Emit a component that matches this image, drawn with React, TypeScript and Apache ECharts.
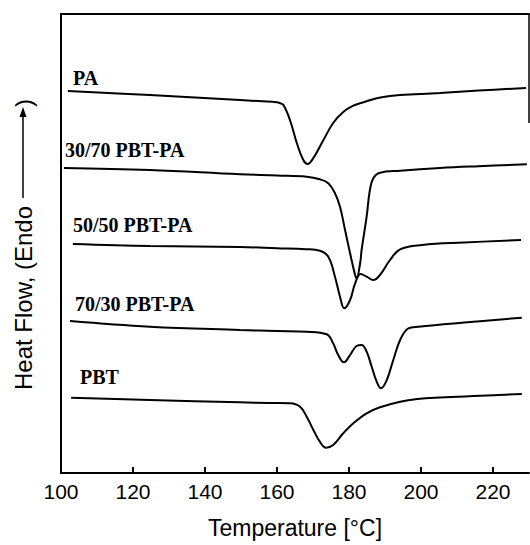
import React, { useEffect, useRef } from "react";
import * as echarts from "echarts";

// Temperature ticks (°C)
const xTickLabels = [100, 120, 140, 160, 180, 200, 220];

// Curve names (labels shown on the chart)
const curveNames = ["PA", "30/70 PBT-PA", "50/50 PBT-PA", "70/30 PBT-PA", "PBT"];

// PA
const tempPA = [101.9, 124.7, 149.7, 156.0, 159.9, 160.9, 161.8, 163.6, 165.5, 167.3, 168.5, 170.1, 172.9, 175.6, 178.4, 181.2, 184.0, 187.7, 191.4, 194.2, 205.3, 216.0, 229.2];
const flowPA = [38.2, 37.8, 37.3, 37.17, 37.07, 36.97, 36.8, 35.3, 33.0, 31.3, 30.9, 31.5, 33.3, 35.0, 36.1, 36.73, 37.07, 37.47, 37.7, 37.8, 38.0, 38.25, 38.5];

// 30/70 PBT-PA
const temp3070 = [100.8, 124.7, 149.7, 160.0, 168.25, 171.9, 174.25, 176.1, 177.5, 178.9, 180.3, 181.7, 182.1, 183.1, 183.5, 184.9, 185.8, 186.75, 188.6, 194.2, 205.3, 216.0, 229.4];
const flow3070 = [30.5, 30.3, 29.87, 29.75, 29.63, 29.37, 28.97, 27.97, 26.63, 24.3, 21.97, 19.8, 19.47, 21.0, 22.3, 25.63, 28.3, 29.47, 30.03, 30.23, 30.5, 30.68, 30.87];

// 50/50 PBT-PA
const temp5050 = [103.3, 124.7, 149.7, 160.0, 168.0, 171.9, 174.25, 176.1, 177.5, 178.7, 180.3, 181.7, 183.25, 184.9, 186.75, 188.6, 191.4, 194.2, 200.3, 212.0, 227.8];
const flow5050 = [22.9, 22.7, 22.6, 22.48, 22.38, 22.23, 21.63, 19.63, 17.63, 16.47, 17.3, 18.97, 19.9, 19.63, 19.3, 19.8, 21.3, 22.37, 22.8, 23.05, 23.3];

// 70/30 PBT-PA
const temp7030 = [102.5, 124.7, 149.7, 160.0, 168.25, 173.8, 175.6, 177.0, 178.6, 180.3, 182.1, 183.5, 184.9, 186.3, 187.7, 188.9, 190.5, 192.3, 194.2, 196.5, 199.25, 212.0, 228.0];
const flow7030 = [15.2, 14.63, 14.3, 14.2, 14.13, 13.87, 12.97, 11.8, 11.07, 11.8, 12.7, 12.8, 12.13, 10.63, 9.13, 8.47, 9.3, 11.3, 13.3, 14.47, 14.63, 15.05, 15.53];

// PBT
const tempPBT = [102.8, 124.7, 149.7, 158.0, 163.6, 166.4, 168.25, 170.1, 171.9, 173.6, 175.6, 178.4, 181.2, 184.9, 188.6, 194.2, 199.0, 205.3, 216.4, 228.0];
const flowPBT = [7.53, 7.3, 7.07, 7.0, 6.97, 6.63, 5.63, 4.3, 3.13, 2.53, 2.8, 3.97, 4.97, 5.97, 6.57, 7.13, 7.4, 7.55, 7.72, 7.9];

const curves = [
  [tempPA, flowPA],
  [temp3070, flow3070],
  [temp5050, flow5050],
  [temp7030, flow7030],
  [tempPBT, flowPBT],
];

const sansFont = '"Liberation Sans", Arial, Helvetica, sans-serif';
const serifFont = '"Liberation Serif", "Times New Roman", serif';

export default function App() {
  const ref = useRef<HTMLDivElement>(null);

  useEffect(() => {
    if (!ref.current) return;
    const chart = echarts.init(ref.current, undefined, { renderer: "svg" });

    const labelPos = [
      [73, 78],
      [65, 150],
      [73, 225],
      [75, 304],
      [80, 377],
    ];

    const series = curves.map(([t, v], i) => ({
      name: curveNames[i],
      type: "line",
      data: t.map((x, j) => [x, v[j]]),
      showSymbol: false,
      smooth: 0.4,
      lineStyle: { color: "#000", width: 2 },
      xAxisIndex: 0,
      yAxisIndex: 0,
    }));

    const option = {
      animation: false,
      backgroundColor: "#fff",
      grid: { left: 61, right: 1, top: 14, bottom: 72 },
      xAxis: [
        {
          type: "value",
          min: 100,
          max: 230,
          interval: 20,
          position: "bottom",
          name: "Temperature [°C]",
          nameLocation: "middle",
          nameGap: 43,
          nameTextStyle: { fontFamily: sansFont, fontSize: 23, color: "#000" },
          axisLine: { show: true, onZero: false, lineStyle: { color: "#000", width: 2 } },
          axisTick: { show: true, inside: true, length: 6, lineStyle: { color: "#000", width: 2 } },
          axisLabel: {
            color: "#000",
            fontFamily: sansFont,
            fontSize: 21,
            margin: 8,
            showMaxLabel: false,
            formatter: (val: number) => (xTickLabels.includes(val) ? String(val) : ""),
          },
          splitLine: { show: false },
        },
        {
          type: "value",
          min: 100,
          max: 230,
          position: "top",
          axisLine: { show: true, onZero: false, lineStyle: { color: "#000", width: 2 } },
          axisTick: { show: false },
          axisLabel: { show: false },
          splitLine: { show: false },
        },
      ],
      yAxis: {
        type: "value",
        min: 0,
        max: 45.9,
        axisLine: { show: true, onZero: false, lineStyle: { color: "#000", width: 2 } },
        axisTick: { show: false },
        axisLabel: { show: false },
        splitLine: { show: false },
      },
      series,
      graphic: [
        ...curveNames.map((n, i) => ({
          type: "text",
          x: labelPos[i][0],
          y: labelPos[i][1],
          style: {
            text: n,
            fill: "#000",
            font: `bold 20px ${serifFont}`,
            align: "left",
            verticalAlign: "middle",
          },
        })),
        {
          type: "text",
          x: 23,
          y: 298,
          rotation: Math.PI / 2,
          style: {
            text: "Heat Flow, (Endo",
            fill: "#000",
            font: `24px ${sansFont}`,
            align: "center",
            verticalAlign: "middle",
          },
        },
        {
          type: "line",
          shape: { x1: 23, y1: 198, x2: 23, y2: 115 },
          style: { stroke: "#000", lineWidth: 1.5 },
        },
        {
          type: "polygon",
          shape: { points: [[19.5, 117], [26.5, 117], [23, 107]] },
          style: { fill: "#000" },
        },
        {
          type: "text",
          x: 23,
          y: 103,
          rotation: Math.PI / 2,
          style: {
            text: ")",
            fill: "#000",
            font: `24px ${sansFont}`,
            align: "center",
            verticalAlign: "middle",
          },
        },
        {
          type: "line",
          shape: { x1: 529, y1: 14, x2: 529, y2: 123 },
          style: { stroke: "#000", lineWidth: 1.5 },
        },
      ],
    };

    chart.setOption(option as any);
    return () => chart.dispose();
  }, []);

  return <div ref={ref} style={{ width: 530, height: 545, position: "absolute", left: 0, top: 0 }} />;
}
